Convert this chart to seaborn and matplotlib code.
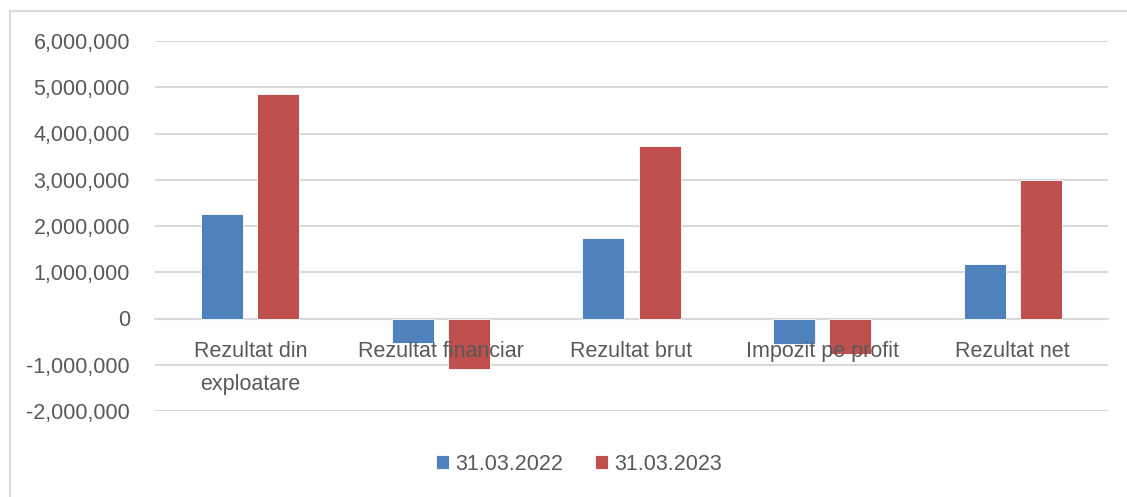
import matplotlib
matplotlib.use("Agg")
import matplotlib.pyplot as plt
import seaborn as sns
import pandas as pd
from matplotlib.patches import Rectangle
from matplotlib.ticker import FuncFormatter

categories = ["Rezultat din\nexploatare", "Rezultat financiar", "Rezultat brut",
              "Impozit pe profit", "Rezultat net"]
series_names = ["31.03.2022", "31.03.2023"]
values_2022 = [2260000, -520000, 1740000, -550000, 1180000]
values_2023 = [4860000, -1100000, 3740000, -760000, 2990000]
colors = ["#4F81BD", "#C0504D"]

rows = []
for c, v in zip(categories, values_2022):
    rows.append({"cat": c, "serie": series_names[0], "val": v})
for c, v in zip(categories, values_2023):
    rows.append({"cat": c, "serie": series_names[1], "val": v})
df = pd.DataFrame(rows)

sns.set_theme(style="white")
plt.rcParams["font.family"] = ["Liberation Sans", "DejaVu Sans"]
text_color = "#595959"
grid_color = "#d9d9d9"
fs = 15.5

fig = plt.figure(figsize=(11.27, 4.97), dpi=100)
W, H = 1127, 497
ax = fig.add_axes([155 / W, 1 - 411 / H, (1108 - 155) / W, (411 - 41) / H])

sns.barplot(data=df, x="cat", y="val", hue="serie", order=categories,
            hue_order=series_names, palette=colors, width=0.59, gap=0.25,
            ax=ax, errorbar=None, saturation=1, edgecolor="white", linewidth=0.6)

ax.set_ylim(-2000000, 6000000)
ax.set_xlim(-0.5, len(categories) - 0.5)
ax.set_yticks(range(-2000000, 6000001, 1000000))
ax.yaxis.set_major_formatter(FuncFormatter(lambda v, p: f"{int(v):,}"))
ax.set_axisbelow(True)
ax.xaxis.set_zorder(3)
ax.yaxis.grid(True, color=grid_color, linewidth=1.5)
ax.xaxis.grid(False)
for s in ["left", "right", "top"]:
    ax.spines[s].set_visible(False)
ax.spines["bottom"].set_position(("data", 0))
ax.spines["bottom"].set_color(grid_color)
ax.spines["bottom"].set_linewidth(1.5)
ax.spines["bottom"].set_zorder(0.6)
ax.set_xlabel("")
ax.set_ylabel("")
ax.tick_params(axis="both", length=0, colors=text_color, labelsize=fs)
ax.tick_params(axis="x", pad=16)
ax.tick_params(axis="y", pad=18)
for lab in ax.get_xticklabels():
    lab.set_linespacing(1.75)

handles, labels = ax.get_legend_handles_labels()
ax.legend_.remove()
fig.legend(handles, labels, loc="center", bbox_to_anchor=(579 / W, 1 - 464 / H),
           ncol=2, frameon=False, fontsize=fs, labelcolor=text_color,
           handlelength=0.6, handleheight=0.6, handletextpad=0.3,
           columnspacing=1.5)

fig.patches.append(Rectangle((10 / W, -0.1), 1.2, (H - 11) / H + 0.1,
                             transform=fig.transFigure, fill=False,
                             edgecolor=grid_color, linewidth=1.5))

fig.savefig("out.png", dpi=100, facecolor="white")
